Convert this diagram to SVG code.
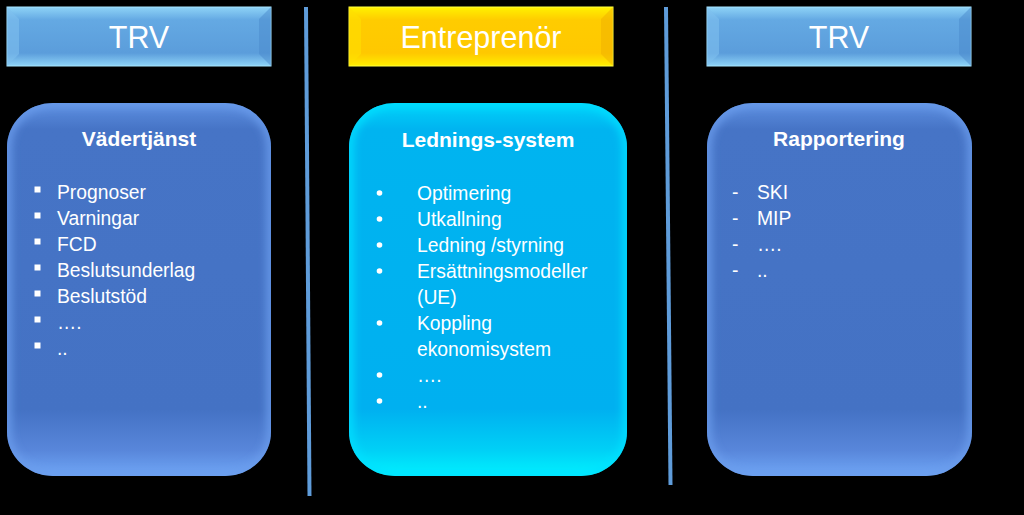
<svg xmlns="http://www.w3.org/2000/svg" width="1024" height="515" viewBox="0 0 1024 515">
<defs>
<style>
.hdr{font-family:"Liberation Sans",Arial,sans-serif;font-size:30.5px;fill:#ffffff;text-anchor:middle}
.ttl{font-family:"Liberation Sans",Arial,sans-serif;font-size:21px;font-weight:bold;fill:#ffffff;text-anchor:middle}
.itm{font-family:"Liberation Sans",Arial,sans-serif;font-size:19.3px;fill:#ffffff}
.div{stroke:#5f9cda;stroke-width:4;stroke-linecap:butt}
</style>
<linearGradient id="gBlueHdr" x1="0" y1="0" x2="0" y2="1">
<stop offset="0" stop-color="#8ed3f7"/>
<stop offset="0.22" stop-color="#64a9e3"/>
<stop offset="0.78" stop-color="#5b9ddb"/>
<stop offset="1" stop-color="#8ed3f7"/>
</linearGradient>
<linearGradient id="gYelHdr" x1="0" y1="0" x2="0" y2="1">
<stop offset="0" stop-color="#fff200"/>
<stop offset="0.22" stop-color="#ffcc00"/>
<stop offset="0.78" stop-color="#ffc800"/>
<stop offset="1" stop-color="#ffee00"/>
</linearGradient>
<linearGradient id="gBlueBox" x1="0" y1="0" x2="0" y2="1">
<stop offset="0" stop-color="#5d8fe0"/>
<stop offset="0.07" stop-color="#4674c6"/>
<stop offset="0.82" stop-color="#4472c4"/>
<stop offset="0.93" stop-color="#5886da"/>
<stop offset="1" stop-color="#6fa6f6"/>
</linearGradient>
<linearGradient id="gCyanBox" x1="0" y1="0" x2="0" y2="1">
<stop offset="0" stop-color="#00d2fa"/>
<stop offset="0.07" stop-color="#00b4f0"/>
<stop offset="0.82" stop-color="#00b0f0"/>
<stop offset="0.93" stop-color="#00d0f6"/>
<stop offset="1" stop-color="#00f2ff"/>
</linearGradient>
<filter id="soft" x="-10%" y="-10%" width="120%" height="120%">
<feGaussianBlur stdDeviation="4"/>
</filter>
<clipPath id="cL"><rect x="7" y="103" width="264" height="373" rx="46" ry="44"/></clipPath>
<clipPath id="cC"><rect x="349" y="103" width="278" height="373" rx="46" ry="44"/></clipPath>
<clipPath id="cR"><rect x="707" y="103" width="265" height="373" rx="46" ry="44"/></clipPath>
</defs>
<rect width="1024" height="515" fill="#000000"/>

<g id="connectors">
<line class="div" x1="306" y1="7" x2="309.5" y2="496"/>
<line class="div" x1="666" y1="7" x2="670.5" y2="485"/>
</g>

<g id="hdr-trv-left">
<rect x="7" y="7" width="264" height="59" fill="url(#gBlueHdr)" stroke="#a6e4ff" stroke-width="1"/>
<polygon points="7,7 19,19 19,54 7,66" fill="#7fc0ee" opacity="0.6"/>
<polygon points="271,7 259,19 259,54 271,66" fill="#4a8acb" opacity="0.5"/>
<text class="hdr" x="139" y="48">TRV</text>
</g>

<g id="hdr-entreprenor">
<rect x="349" y="7" width="264" height="59" fill="url(#gYelHdr)" stroke="#ffff40" stroke-width="1"/>
<polygon points="349,7 361,19 361,54 349,66" fill="#ffe000" opacity="0.6"/>
<polygon points="613,7 601,19 601,54 613,66" fill="#f0b000" opacity="0.5"/>
<text class="hdr" x="481" y="48">Entreprenör</text>
</g>

<g id="hdr-trv-right">
<rect x="707" y="7" width="264" height="59" fill="url(#gBlueHdr)" stroke="#a6e4ff" stroke-width="1"/>
<polygon points="707,7 719,19 719,54 707,66" fill="#7fc0ee" opacity="0.6"/>
<polygon points="971,7 959,19 959,54 971,66" fill="#4a8acb" opacity="0.5"/>
<text class="hdr" x="839" y="48">TRV</text>
</g>

<g id="box-vadertjanst">
<rect x="7" y="103" width="264" height="373" rx="46" ry="44" fill="url(#gBlueBox)"/>
<g clip-path="url(#cL)"><rect x="7" y="103" width="264" height="373" rx="46" ry="44" fill="none" stroke="#6a9cec" stroke-width="8" filter="url(#soft)"/></g>
<text class="ttl" x="139" y="146">Vädertjänst</text>
<g fill="#ffffff">
<rect x="34.5" y="186.5" width="6" height="6"/>
<rect x="34.5" y="212.5" width="6" height="6"/>
<rect x="34.5" y="238.5" width="6" height="6"/>
<rect x="34.5" y="264.5" width="6" height="6"/>
<rect x="34.5" y="290.5" width="6" height="6"/>
<rect x="34.5" y="316.5" width="6" height="6"/>
<rect x="34.5" y="342.5" width="6" height="6"/>
</g>
<text class="itm" x="57" y="199">Prognoser</text>
<text class="itm" x="57" y="225">Varningar</text>
<text class="itm" x="57" y="251">FCD</text>
<text class="itm" x="57" y="277">Beslutsunderlag</text>
<text class="itm" x="57" y="303">Beslutstöd</text>
<text class="itm" x="57" y="329">….</text>
<text class="itm" x="57" y="355">..</text>
</g>

<g id="box-ledningssystem">
<rect x="349" y="103" width="278" height="373" rx="46" ry="44" fill="url(#gCyanBox)"/>
<g clip-path="url(#cC)"><rect x="349" y="103" width="278" height="373" rx="46" ry="44" fill="none" stroke="#00e0ff" stroke-width="8" filter="url(#soft)"/></g>
<text class="ttl" x="488" y="147">Lednings-system</text>
<g fill="#ffffff">
<circle cx="379.5" cy="193" r="2.8"/>
<circle cx="379.5" cy="219" r="2.8"/>
<circle cx="379.5" cy="245" r="2.8"/>
<circle cx="379.5" cy="271" r="2.8"/>
<circle cx="379.5" cy="323" r="2.8"/>
<circle cx="379.5" cy="375" r="2.8"/>
<circle cx="379.5" cy="401" r="2.8"/>
</g>
<text class="itm" x="417" y="200">Optimering</text>
<text class="itm" x="417" y="226">Utkallning</text>
<text class="itm" x="417" y="252">Ledning /styrning</text>
<text class="itm" x="417" y="278">Ersättningsmodeller</text>
<text class="itm" x="417" y="304">(UE)</text>
<text class="itm" x="417" y="330">Koppling</text>
<text class="itm" x="417" y="356">ekonomisystem</text>
<text class="itm" x="417" y="382">….</text>
<text class="itm" x="417" y="408">..</text>
</g>

<g id="box-rapportering">
<rect x="707" y="103" width="265" height="373" rx="46" ry="44" fill="url(#gBlueBox)"/>
<g clip-path="url(#cR)"><rect x="707" y="103" width="265" height="373" rx="46" ry="44" fill="none" stroke="#6a9cec" stroke-width="8" filter="url(#soft)"/></g>
<text class="ttl" x="839" y="146">Rapportering</text>
<text class="itm" x="732" y="199">-</text>
<text class="itm" x="732" y="225">-</text>
<text class="itm" x="732" y="251">-</text>
<text class="itm" x="732" y="277">-</text>
<text class="itm" x="757" y="199">SKI</text>
<text class="itm" x="757" y="225">MIP</text>
<text class="itm" x="757" y="251">….</text>
<text class="itm" x="757" y="277">..</text>
</g>
</svg>
